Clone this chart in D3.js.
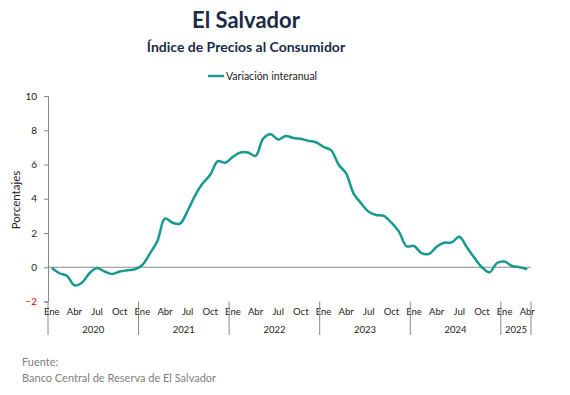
<!DOCTYPE html>
<html>
<head>
<meta charset="utf-8">
<script src="https://cdn.jsdelivr.net/npm/d3@7"></script>
<style>
  body { margin: 0; background: #fff; }
  svg { display: block; font-family: Lato, "Open Sans", sans-serif; }
</style>
</head>
<body>
<div id="chart"></div>
<script>
const years = ["2020", "2021", "2022", "2023", "2024", "2025"];
const monthNames = ["Ene", "Feb", "Mar", "Abr", "May", "Jun", "Jul", "Ago", "Sep", "Oct", "Nov", "Dic"];
const shownMonths = ["Ene", "Abr", "Jul", "Oct"];
const monthsPerYear = [12, 12, 12, 12, 12, 4];

// variación interanual, ene 2020 - abr 2025
const inflation = [
  -0.05, -0.35, -0.5, -1.05, -0.9, -0.35, -0.05, -0.25, -0.4, -0.25, -0.18, -0.12,
  0.13, 0.8, 1.53, 2.85, 2.6, 2.55, 3.3, 4.2, 4.9, 5.4, 6.2, 6.1,
  6.45, 6.7, 6.7, 6.5, 7.5, 7.77, 7.46, 7.67, 7.55, 7.5, 7.38, 7.3,
  7.03, 6.84, 6.0, 5.48, 4.3, 3.73, 3.24, 3.05, 3.0, 2.6, 2.08, 1.23,
  1.24, 0.82, 0.78, 1.2, 1.43, 1.45, 1.78, 1.17, 0.55, 0.0, -0.3, 0.25,
  0.33, 0.07, 0.0, -0.12
];
const yTicks = [-2, 0, 2, 4, 6, 8, 10];

const W = 570, H = 395;
const margin = { left: 48, right: 531, top: 96, bottom: 301.5 };

const months = [];
years.forEach((y, yi) => {
  for (let m = 0; m < monthsPerYear[yi]; m++) months.push({ key: y + "-" + m, year: y, month: monthNames[m] });
});
const data = months.map((d, i) => ({ ...d, value: inflation[i] }));

const svg = d3.select("#chart").append("svg")
  .attr("width", W)
  .attr("height", H);

const x = d3.scaleBand().domain(months.map(d => d.key)).range([margin.left, margin.right]);
const y = d3.scaleLinear().domain([-2, 10]).range([margin.bottom, margin.top]);

// titles
svg.append("text")
  .attr("x", 246).attr("y", 28)
  .attr("text-anchor", "middle")
  .style("font-size", "22px").style("font-weight", "bold")
  .attr("fill", "#1b2a45")
  .text("El Salvador");

svg.append("text")
  .attr("x", 246).attr("y", 52)
  .attr("text-anchor", "middle")
  .style("font-size", "14px").style("font-weight", "bold")
  .attr("fill", "#1b2a45")
  .text("Índice de Precios al Consumidor");

// legend
const legend = svg.append("g");
legend.append("line")
  .attr("x1", 208).attr("x2", 224).attr("y1", 76).attr("y2", 76)
  .attr("stroke", "#17998f").attr("stroke-width", 2.5);
legend.append("text")
  .attr("x", 226).attr("y", 80)
  .style("font-size", "10.5px")
  .attr("fill", "#222")
  .text("Variación interanual");

// y axis
const yAxis = svg.append("g")
  .attr("transform", `translate(${margin.left},0)`)
  .call(d3.axisLeft(y).tickValues(yTicks).tickSize(4).tickPadding(7));
yAxis.select(".domain").attr("stroke", "#888");
yAxis.selectAll(".tick line").attr("stroke", "#888");
yAxis.selectAll(".tick text")
  .style("font-size", "10px")
  .style("font-family", "Lato, sans-serif")
  .attr("fill", d => d < 0 ? "#e00000" : "#222");

svg.append("line")
  .attr("x1", margin.left).attr("x2", margin.left).attr("y1", margin.bottom).attr("y2", 335)
  .attr("stroke", "#888");

svg.append("text")
  .attr("transform", `translate(20,200) rotate(-90)`)
  .attr("text-anchor", "middle")
  .style("font-size", "11.5px")
  .attr("fill", "#222")
  .text("Porcentajes");

// zero line
svg.append("line")
  .attr("x1", margin.left).attr("x2", margin.right)
  .attr("y1", y(0)).attr("y2", y(0))
  .attr("stroke", "#888").attr("stroke-width", 1.2);

// month labels
const monthAxis = svg.append("g")
  .attr("transform", `translate(0,${margin.bottom})`)
  .call(d3.axisBottom(x)
    .tickValues(months.filter(d => shownMonths.includes(d.month)).map(d => d.key))
    .tickFormat(k => months.find(d => d.key === k).month)
    .tickSize(0).tickPadding(7));
monthAxis.select(".domain").remove();
monthAxis.selectAll(".tick text")
  .style("font-size", "9.5px")
  .style("font-family", "Lato, sans-serif")
  .attr("fill", "#222");

// year labels and separators
let start = 0;
years.forEach((yr, yi) => {
  const first = months[start].key;
  const last = months[start + monthsPerYear[yi] - 1].key;
  const x0 = x(first), x1 = x(last) + x.bandwidth();
  svg.append("text")
    .attr("x", (x0 + x1) / 2).attr("y", 333)
    .attr("text-anchor", "middle")
    .style("font-size", "9.5px")
    .attr("fill", "#222")
    .text(yr);
  svg.append("line")
    .attr("x1", x1).attr("x2", x1).attr("y1", margin.bottom).attr("y2", 335)
    .attr("stroke", "#888");
  start += monthsPerYear[yi];
});

// series
const line = d3.line()
  .x(d => x(d.key) + x.bandwidth() / 2)
  .y(d => y(d.value))
  .curve(d3.curveCatmullRom.alpha(0.5));

svg.append("path")
  .datum(data)
  .attr("fill", "none")
  .attr("stroke", "#17998f")
  .attr("stroke-width", 2.5)
  .attr("d", line);

// source
svg.append("text")
  .attr("x", 22).attr("y", 366)
  .style("font-size", "11px")
  .attr("fill", "#808080")
  .text("Fuente:");
svg.append("text")
  .attr("x", 22).attr("y", 382)
  .style("font-size", "11px")
  .attr("fill", "#808080")
  .text("Banco Central de Reserva de El Salvador");
</script>
</body>
</html>
